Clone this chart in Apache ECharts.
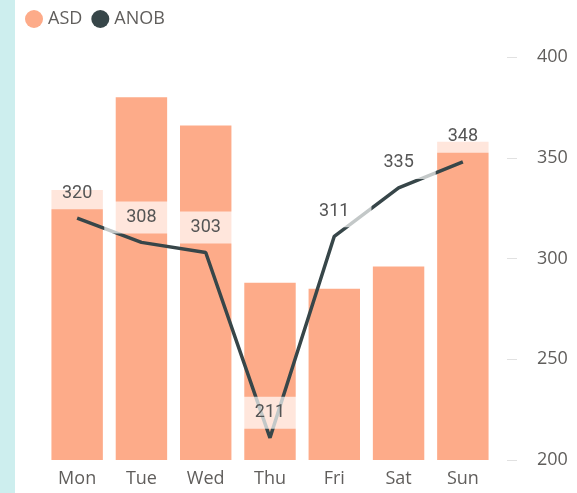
<!DOCTYPE html>
<html>
<head>
<meta charset="utf-8">
<script src="https://cdn.jsdelivr.net/npm/echarts@6/dist/echarts.min.js"></script>
<style>
    html, body { margin: 0; padding: 0; background: #fff; }
    .strip { position: absolute; left: 0; top: 0; width: 15px; height: 493px; background: #cdeeee; }
    #chart { position: absolute; left: 0; top: 0; width: 577px; height: 493px; }
</style>
</head>
<body>
<div class="strip"></div>
<div id="chart"></div>
<script>
// 一周数据
const days = ['Mon', 'Tue', 'Wed', 'Thu', 'Fri', 'Sat', 'Sun']
const asdData = [334, 380, 366, 288, 285, 296, 358]
const anobData = [320, 308, 303, 211, 311, 335, 348]
const yTicks = [200, 250, 300, 350, 400]

const axisFont = {
    color: '#605E5C',
    fontFamily: 'Open Sans',
    fontSize: 18
}

const myChart = echarts.init(document.getElementById('chart'))
const options = {
    animation: false,
    legend: {
        left: 20,
        top: 5,
        icon: 'circle',
        itemWidth: 18,
        itemHeight: 18,
        itemGap: 9,
        textStyle: { ...axisFont, fontSize: 18 },
        data: ['ASD', 'ANOB']
    },
    grid: {
        left: 45,
        right: 82,
        top: 57,
        bottom: 33,
        outerBoundsMode: 'none'
    },
    xAxis: {
        type: 'category',
        data: days,
        axisLine: { show: false },
        axisTick: { show: false },
        axisLabel: { ...axisFont, margin: 10 }
    },
    yAxis: {
        type: 'value',
        position: 'right',
        min: yTicks[0],
        max: yTicks[yTicks.length - 1],
        interval: 50,
        offset: 12,
        splitLine: { show: false },
        axisLine: { show: false },
        axisTick: {
            show: true,
            length: 10,
            lineStyle: { color: '#e1e1e1', width: 1 }
        },
        axisLabel: { ...axisFont, margin: 30 }
    },
    series: [
        {
            name: 'ASD',
            type: 'bar',
            data: asdData,
            barCategoryGap: '20%',
            itemStyle: { color: '#FDAB89' }
        },
        {
            name: 'ANOB',
            type: 'line',
            data: anobData,
            showSymbol: true,
            symbol: 'circle',
            symbolSize: 0,
            itemStyle: { color: '#374649' },
            lineStyle: { color: '#374649', width: 3.5 },
            label: {
                show: true,
                position: 'top',
                distance: 9,
                color: '#555555',
                fontFamily: 'Roboto',
                fontSize: 18,
                backgroundColor: 'rgba(255,255,255,0.7)', // 标签半透明底色
                padding: [7, 22]
            },
            z: 3
        }
    ]
}
myChart.setOption(options)
</script>
</body>
</html>
